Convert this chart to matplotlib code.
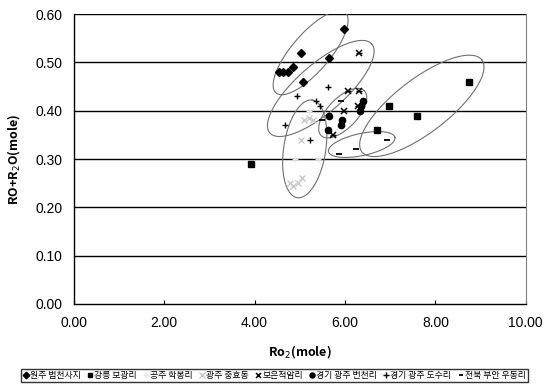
import numpy as np
import matplotlib
matplotlib.use("Agg")
import matplotlib.pyplot as plt

plt.rcParams['font.family'] = ['Noto Sans CJK KR', 'DejaVu Sans']

# ---- data ----
s1_name = "원주 법천사지"
s1_x = [5.98, 5.02, 5.65, 4.85, 4.54, 4.63, 4.73, 5.08]
s1_y = [0.57, 0.52, 0.51, 0.49, 0.48, 0.48, 0.48, 0.46]

s2_name = "강릉 보광리"
s2_x = [6.98, 6.70, 3.92, 8.74, 7.60]
s2_y = [0.41, 0.36, 0.29, 0.46, 0.39]

s3_name = "공주 학봉리"
s3_x = [4.90, 5.41, 5.21]
s3_y = [0.30, 0.30, 0.40]

s4_name = "광주 충효동"
s4_x = [5.09, 5.20, 5.30, 5.02, 4.78, 4.85, 4.96, 5.04]
s4_y = [0.38, 0.385, 0.38, 0.34, 0.25, 0.245, 0.25, 0.26]

s5_name = "보은적암리"
s5_x = [6.31, 6.07, 6.31, 5.98, 6.28, 5.74]
s5_y = [0.52, 0.44, 0.44, 0.40, 0.41, 0.35]

s6_name = "경기 광주 번천리"
s6_x = [6.35, 6.33, 6.40, 5.65, 5.94, 5.92, 5.63]
s6_y = [0.41, 0.40, 0.42, 0.39, 0.38, 0.37, 0.36]

s7_name = "경기 광주 도수리"
s7_x = [5.63, 4.95, 5.36, 5.44, 4.68, 5.22]
s7_y = [0.45, 0.43, 0.42, 0.41, 0.37, 0.34]

s8_name = "전북 부안 우동리"
s8_x = [5.92, 5.49, 6.93, 6.25, 5.86]
s8_y = [0.42, 0.38, 0.34, 0.32, 0.31]

# ellipses: center (cx, cy), semi-axis vectors u and v (data units)
ell_cx = [5.24, 5.465, 5.11, 5.95, 6.37, 7.70]
ell_cy = [0.520, 0.446, 0.321, 0.395, 0.330, 0.410]
ell_ux = [0.767, 1.127, 0.166, 0.475, 0.735, 1.326]
ell_uy = [0.0830, 0.0921, 0.101, 0.0466, 0.0147, 0.0952]
ell_vx = [0.314, 0.349, 0.46, 0.239, 0.051, 0.364]
ell_vy = [-0.0261, -0.0375, -0.0066, -0.0214, -0.0224, -0.0441]

xticks = [0, 2, 4, 6, 8, 10]
yticks = [0.0, 0.1, 0.2, 0.3, 0.4, 0.5, 0.6]

# ---- figure ----
fig = plt.figure(figsize=(5.46, 3.85), dpi=100)
ax = fig.add_axes([0.135, 0.2105, 0.828, 0.753])

for yv in yticks[1:]:
    ax.axhline(yv, color='black', lw=1.0, zorder=1)

t = np.linspace(0, 2 * np.pi, 300)
for cx, cy, ux, uy, vx, vy in zip(ell_cx, ell_cy, ell_ux, ell_uy, ell_vx, ell_vy):
    ex = cx + ux * np.cos(t) + vx * np.sin(t)
    ey = cy + uy * np.cos(t) + vy * np.sin(t)
    ax.plot(ex, ey, color='#707070', lw=0.8, zorder=2)

h1, = ax.plot(s1_x, s1_y, 'D', color='black', ms=4.2, ls='none', label=s1_name, zorder=3)
h2, = ax.plot(s2_x, s2_y, 's', color='black', ms=4, ls='none', label=s2_name, zorder=3)
h3, = ax.plot(s3_x, s3_y, '+', color='#e4e4e4', ms=5, mew=1, ls='none', label=s3_name, zorder=3)
h4, = ax.plot(s4_x, s4_y, 'x', color='#c8c8c8', ms=5, mew=1, ls='none', label=s4_name, zorder=3)
h5, = ax.plot(s5_x, s5_y, 'x', color='black', ms=4.5, mew=1.1, ls='none', label=s5_name, zorder=3)
ax.plot(s5_x, s5_y, '_', color='black', ms=4.5, mew=1.0, ls='none', zorder=3)
h6, = ax.plot(s6_x, s6_y, 'o', color='black', ms=4.5, ls='none', label=s6_name, zorder=3)
h7, = ax.plot(s7_x, s7_y, '+', color='black', ms=5, mew=1, ls='none', label=s7_name, zorder=3)
h8, = ax.plot(s8_x, s8_y, '_', color='black', ms=4, mew=1.3, ls='none', label=s8_name, zorder=3)

ax.set_xlim(0, 10)
ax.set_ylim(0, 0.6)
ax.set_xticks(xticks)
ax.set_yticks(yticks)
ax.set_xticklabels([f"{v:.2f}" for v in xticks], fontfamily='Liberation Sans', fontsize=10)
ax.set_yticklabels([f"{v:.2f}" for v in yticks], fontfamily='Liberation Sans', fontsize=10)
ax.tick_params(axis='x', direction='in', length=3, pad=9)
ax.tick_params(axis='y', length=0, pad=8)
for sp in ['left', 'bottom']:
    ax.spines[sp].set_color('black')
    ax.spines[sp].set_linewidth(1.0)
ax.spines['right'].set_color('#808080')
ax.spines['top'].set_visible(False)

ax.set_xlabel("Ro$_2$(mole)", fontsize=9, fontweight='bold', labelpad=9)
ax.set_ylabel("RO+R$_2$O(mole)", fontsize=9, fontweight='bold', labelpad=10)

leg = fig.legend(handles=[h1, h2, h3, h4, h5, h6, h7, h8], loc='lower center',
                 bbox_to_anchor=(0.503, 0.003), ncol=8, fontsize=6.4,
                 handlelength=0.6, handletextpad=0.15, columnspacing=0.75,
                 borderpad=0.25, borderaxespad=0.2, fancybox=False,
                 frameon=True, edgecolor='black', markerscale=0.8)
leg.get_frame().set_linewidth(1.0)

fig.savefig("out.png", dpi=100, facecolor='white')
